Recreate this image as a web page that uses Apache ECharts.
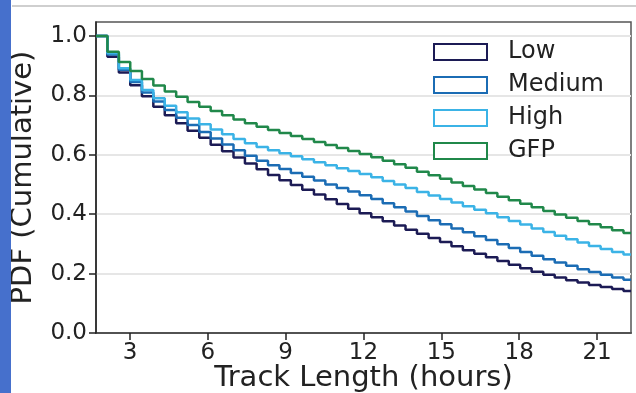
<!DOCTYPE html>
<html>
<head>
<meta charset="utf-8">
<script src="https://cdn.jsdelivr.net/npm/echarts@6/dist/echarts.min.js"></script>
<style>
html,body{margin:0;padding:0;background:#fff;}
#chart{width:636px;height:393px;}
</style>
</head>
<body>
<div id="chart"></div>
<script>
// Bin edges (hours) where each cumulative step begins
const binEdges = [1.69, 2.13, 2.57, 3.01, 3.46, 3.90, 4.34, 4.78, 5.22, 5.67, 6.11, 6.55, 6.99, 7.43, 7.88, 8.32, 8.76, 9.20, 9.64, 10.09, 10.53, 10.97, 11.41, 11.85, 12.30, 12.74, 13.18, 13.62, 14.06, 14.51, 14.95, 15.39, 15.83, 16.27, 16.72, 17.16, 17.60, 18.04, 18.48, 18.93, 19.37, 19.81, 20.25, 20.69, 21.14, 21.58, 22.02];
const xEnd = 22.31;

const seriesNames = ['Low', 'Medium', 'High', 'GFP'];
const low = [1.0, 0.930, 0.877, 0.834, 0.797, 0.762, 0.733, 0.706, 0.681, 0.657, 0.634, 0.612, 0.591, 0.571, 0.551, 0.532, 0.514, 0.498, 0.482, 0.466, 0.450, 0.434, 0.418, 0.403, 0.390, 0.376, 0.362, 0.348, 0.334, 0.320, 0.306, 0.292, 0.279, 0.267, 0.255, 0.242, 0.230, 0.218, 0.206, 0.196, 0.187, 0.178, 0.170, 0.162, 0.155, 0.148, 0.141];
const medium = [1.0, 0.938, 0.886, 0.845, 0.810, 0.779, 0.751, 0.725, 0.700, 0.677, 0.655, 0.635, 0.615, 0.597, 0.580, 0.565, 0.552, 0.539, 0.526, 0.513, 0.500, 0.488, 0.476, 0.464, 0.451, 0.437, 0.423, 0.409, 0.394, 0.380, 0.366, 0.352, 0.339, 0.326, 0.313, 0.299, 0.286, 0.273, 0.260, 0.248, 0.237, 0.226, 0.215, 0.205, 0.196, 0.187, 0.179];
const high = [1.0, 0.942, 0.891, 0.852, 0.818, 0.790, 0.765, 0.743, 0.722, 0.703, 0.685, 0.669, 0.653, 0.639, 0.626, 0.615, 0.605, 0.595, 0.585, 0.575, 0.565, 0.555, 0.545, 0.535, 0.524, 0.512, 0.500, 0.488, 0.475, 0.463, 0.451, 0.439, 0.427, 0.415, 0.403, 0.390, 0.377, 0.365, 0.352, 0.340, 0.327, 0.316, 0.305, 0.293, 0.283, 0.273, 0.264];
const gfp = [1.0, 0.947, 0.912, 0.882, 0.855, 0.833, 0.813, 0.795, 0.778, 0.762, 0.747, 0.733, 0.719, 0.706, 0.694, 0.683, 0.673, 0.663, 0.653, 0.643, 0.633, 0.623, 0.613, 0.603, 0.592, 0.580, 0.568, 0.556, 0.543, 0.531, 0.519, 0.507, 0.495, 0.483, 0.471, 0.459, 0.447, 0.435, 0.423, 0.411, 0.399, 0.388, 0.377, 0.366, 0.356, 0.346, 0.337];

const xTicks = [3, 6, 9, 12, 15, 18, 21];
const yTicks = [0, 0.2, 0.4, 0.6, 0.8, 1.0];

const colors = ['#1c1b55', '#1b6cb4', '#3bb3e6', '#20884a'];
const values = [low, medium, high, gfp];
const FONT = 'DejaVu Sans';

function toPoints(levels) {
  const pts = binEdges.map((x, i) => [x, levels[i]]);
  pts.push([xEnd, levels[levels.length - 1]]);
  return pts;
}

const chart = echarts.init(document.getElementById('chart'), null, {renderer: 'canvas'});
chart.setOption({
  animation: false,
  backgroundColor: '#fff',
  graphic: [
    {type: 'rect', left: 0, top: 0, shape: {width: 11, height: 393}, style: {fill: '#4670cc'}, z: 10},
    {type: 'line', shape: {x1: 12, y1: 6, x2: 636, y2: 6}, style: {stroke: '#cfcfcf', lineWidth: 2}, z: 10}
  ],
  grid: {left: 96, right: 5, top: 22, bottom: 60, containLabel: false, outerBoundsMode: 'none', show: true, borderColor: '#555', borderWidth: 1.5, backgroundColor: 'transparent'},
  legend: {
    orient: 'vertical',
    left: 428,
    top: 35,
    icon: 'rect',
    itemWidth: 53,
    itemHeight: 16,
    itemGap: 9,
    textStyle: {fontFamily: FONT, fontSize: 24, color: '#222', padding: [0, 0, 0, 16], lineHeight: 24},
    data: seriesNames.map((n, i) => ({name: n, itemStyle: {color: '#fff', borderColor: colors[i], borderWidth: 2}}))
  },
  xAxis: {
    type: 'value',
    min: 1.69,
    max: xEnd,
    name: 'Track Length (hours)',
    nameLocation: 'middle',
    nameGap: 31,
    nameMoveOverlap: false,
    nameTextStyle: {fontFamily: FONT, fontSize: 29, color: '#222'},
    axisLine: {show: true, onZero: false, lineStyle: {color: '#222', width: 1.5}},
    axisTick: {show: true, length: 7, customValues: xTicks, lineStyle: {color: '#222', width: 1.5}},
    axisLabel: {customValues: xTicks, fontFamily: FONT, fontSize: 23, color: '#222', margin: 9},
    splitLine: {show: false}
  },
  yAxis: {
    type: 'value',
    min: 0,
    max: 1.047,
    name: 'PDF (Cumulative)',
    nameLocation: 'middle',
    nameGap: 58,
    nameMoveOverlap: false,
    nameRotate: 90,
    nameTextStyle: {fontFamily: FONT, fontSize: 29, color: '#222'},
    axisLine: {show: true, onZero: false, lineStyle: {color: '#222', width: 1.5}},
    axisTick: {show: true, length: 7, customValues: yTicks, lineStyle: {color: '#222', width: 1.5}},
    axisLabel: {customValues: yTicks, fontFamily: FONT, fontSize: 23, color: '#222', margin: 9, formatter: v => v.toFixed(1)},
    splitLine: {show: true, lineStyle: {color: '#e6e6e6', width: 2}}
  },
  series: seriesNames.map((n, i) => ({
    name: n,
    type: 'line',
    step: 'end',
    showSymbol: false,
    symbol: 'none',
    color: colors[i],
    lineStyle: {color: colors[i], width: 2.5},
    data: toPoints(values[i])
  }))
});
</script>
</body>
</html>
